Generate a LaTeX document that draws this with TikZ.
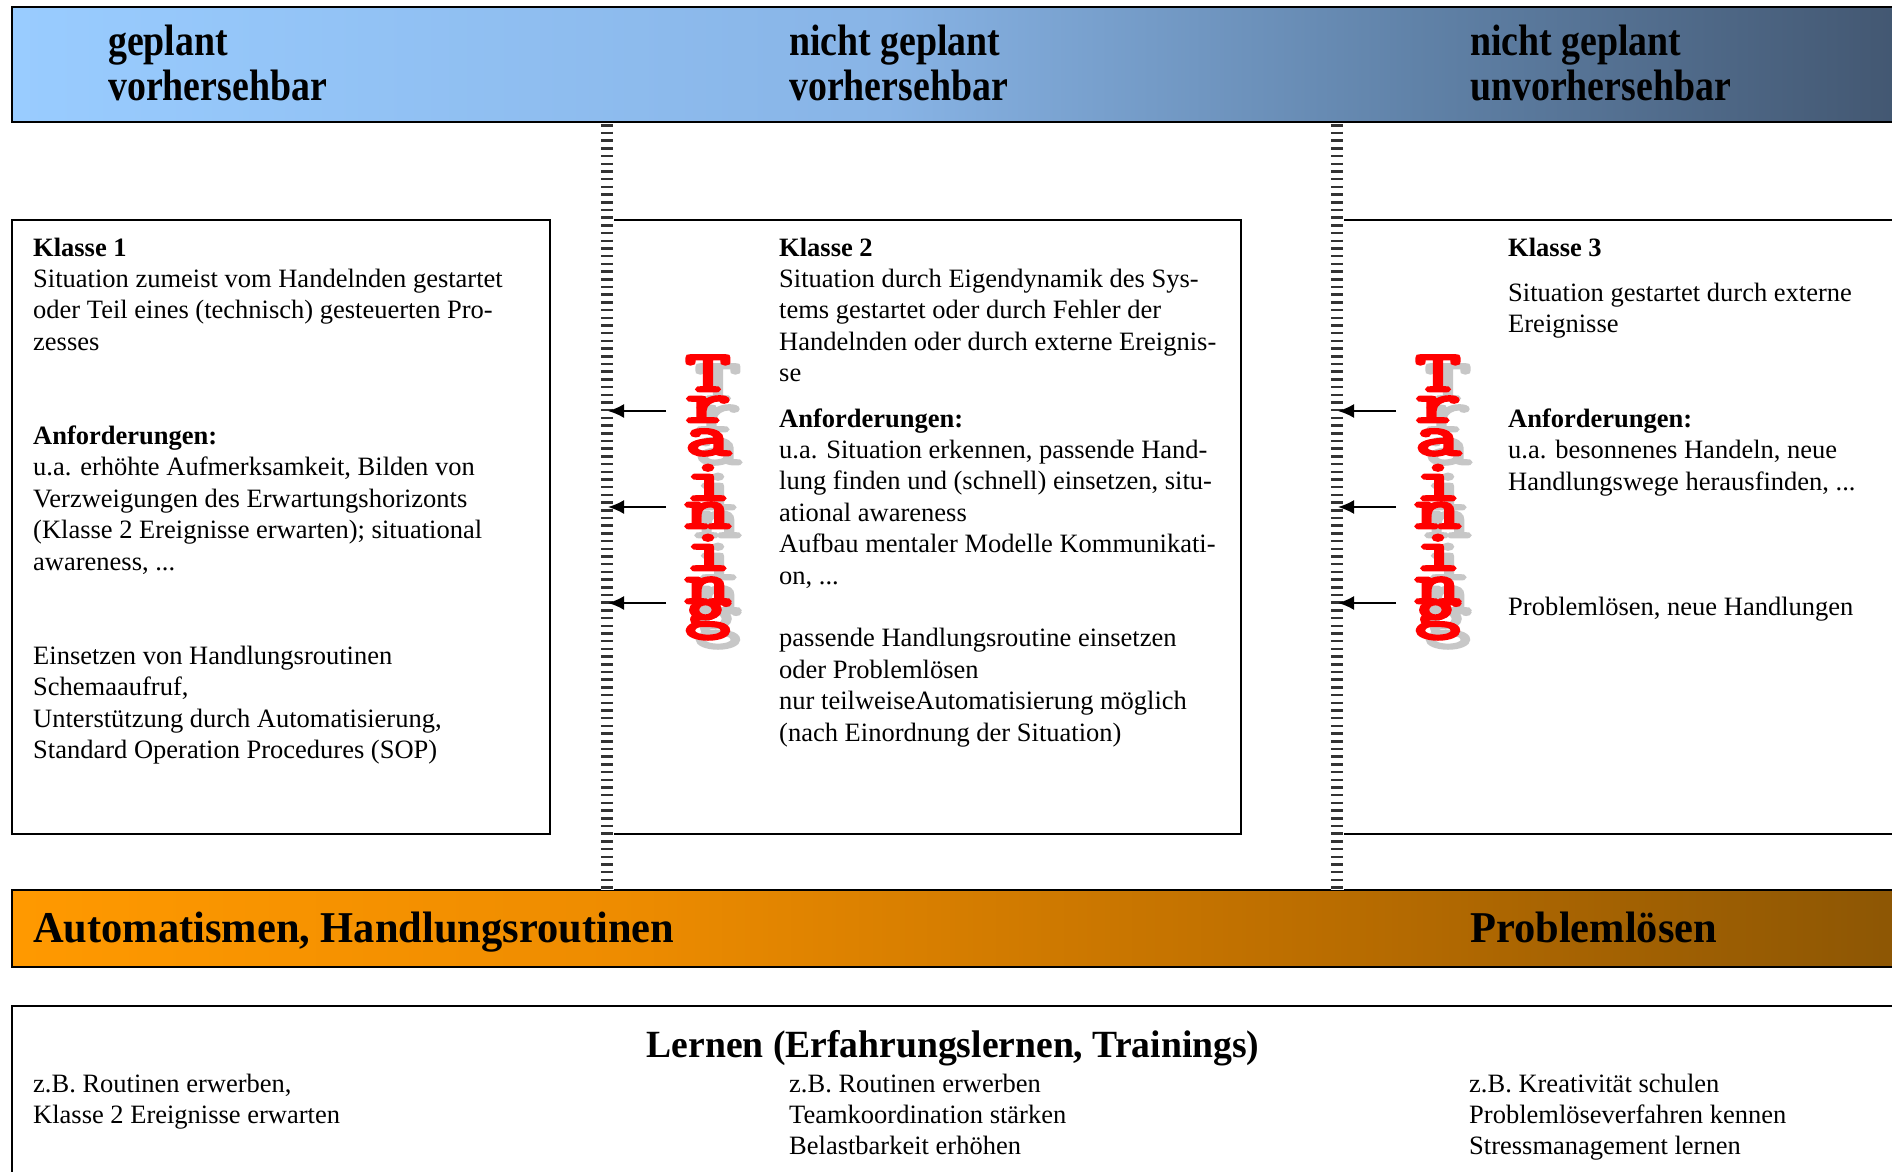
\documentclass[tikz,border=0pt]{standalone}
\usepackage{fontspec}
\setmainfont{Liberation Serif}
\newfontfamily\condserif{Liberation Serif}[FakeStretch=0.86]
\newfontfamily\barserif{Liberation Serif}[FakeStretch=0.965]
\newfontfamily\titleserif{Liberation Serif}[FakeStretch=0.977]
\newfontfamily\trainmono{Latin Modern Mono}[FakeBold=5]
\usetikzlibrary{arrows.meta}
\newcommand*{\bodyfont}{\fontsize{26.5}{31.4}\selectfont}
\newcommand*{\headfont}{\condserif\fontsize{44}{43}\selectfont\bfseries}
\newcommand*{\barfont}{\barserif\fontsize{44}{50}\selectfont\bfseries}
\newcommand*{\titlefont}{\titleserif\fontsize{38.5}{44}\selectfont\bfseries}
\newcommand*{\trainfont}{\trainmono\fontsize{88}{88}\selectfont}
\newcommand*{\squash}[1]{\scalebox{1}[0.66]{#1}}

\definecolor{headLeft}{RGB}{153,204,255}
\definecolor{headMid}{RGB}{136,180,230}
\definecolor{headDark}{RGB}{96,130,168}
\definecolor{headRight}{RGB}{66,86,112}
\definecolor{barLeft}{RGB}{255,153,0}
\definecolor{barMid}{RGB}{238,140,0}
\definecolor{barDark}{RGB}{188,110,0}
\definecolor{barRight}{RGB}{140,86,4}
\pgfdeclarehorizontalshading{headshade}{100bp}{color(0bp)=(headLeft); color(25bp)=(headLeft);
  color(48bp)=(headMid); color(62bp)=(headDark); color(75bp)=(headRight); color(100bp)=(headRight)}
\pgfdeclarehorizontalshading{barshade}{100bp}{color(0bp)=(barLeft); color(25bp)=(barLeft);
  color(41bp)=(barMid); color(59bp)=(barDark); color(75bp)=(barRight); color(100bp)=(barRight)}

\begin{document}
\begin{tikzpicture}[x=1pt,y=-1pt,
    class_box/.style ={rectangle, draw=black, line width=2pt, fill=white},
    bar_box/.style ={draw=black, line width=2.5pt},
    body_txt/.style ={anchor=north west, inner sep=0pt, align=left, font=\bodyfont},
    head_txt/.style ={anchor=north west, inner sep=0pt, align=left, font=\headfont},
    bar_txt/.style ={anchor=base west, inner sep=0pt, font=\barfont},
    train_red/.style ={anchor=base, inner sep=0pt, text=red, font=\trainfont},
    train_shadow/.style ={anchor=base, inner sep=0pt, text=black!22, font=\trainfont},
    line/.style ={draw, line width=2pt, -{Latex[length=16pt,width=14pt]}},
    sep_white/.style ={draw=white, line width=13pt},
    sep_dash/.style ={draw=black!80, line width=12pt, dash pattern=on 2.5pt off 5.2pt}]
    \useasboundingbox (0,0) rectangle (1892,1172);
    \clip (0,0) rectangle (1892,1172);
    % header bar
    \shadedraw[bar_box, shading=headshade] (12,7) rectangle (1910,122);
    \node[head_txt] (head_plan) at (108,24.9) {\strut geplant\\vorhersehbar};
    \node[head_txt] (head_pred) at (789,24.9) {\strut nicht geplant\\vorhersehbar};
    \node[head_txt] (head_unpred) at (1470,24.9) {\strut nicht geplant\\unvorhersehbar};
    % the three classes
    \draw[class_box] (12,220) rectangle (550,834);
    \draw[class_box] (607,220) rectangle (1241,834);
    \draw[class_box] (1337,220) rectangle (1910,834);
    \node[body_txt] (class_one) at (33,234) {\strut\textbf{Klasse 1}\\
      Situation zumeist vom Handelnden gestartet\\
      oder Teil eines (technisch) gesteuerten Pro-\\
      zesses\\[62.8pt]
      \textbf{Anforderungen:}\\
      u.a. erhöhte Aufmerksamkeit, Bilden von\\
      Verzweigungen des Erwartungshorizonts\\
      (Klasse 2 Ereignisse erwarten); situational\\
      awareness, ...\\[62.8pt]
      Einsetzen von Handlungsroutinen\\
      Schemaaufruf,\\
      Unterstützung durch Automatisierung,\\
      Standard Operation Procedures (SOP)};
    \node[body_txt] (class_two) at (779,234) {\strut\textbf{Klasse 2}\\
      Situation durch Eigendynamik des Sys-\\
      tems gestartet oder durch Fehler der\\
      Handelnden oder durch externe Ereignis-\\
      se\\[14pt]
      \textbf{Anforderungen:}\\
      u.a. Situation erkennen, passende Hand-\\
      lung finden und (schnell) einsetzen, situ-\\
      ational awareness\\
      Aufbau mentaler Modelle Kommunikati-\\
      on, ...\\[31.4pt]
      passende Handlungsroutine einsetzen\\
      oder Problemlösen\\
      nur teilweiseAutomatisierung möglich\\
      (nach Einordnung der Situation)};
    \node[body_txt] (class_three) at (1508,234) {\strut\textbf{Klasse 3}\\[14pt]
      Situation gestartet durch externe\\
      Ereignisse\\[63pt]
      \textbf{Anforderungen:}\\
      u.a. besonnenes Handeln, neue\\
      Handlungswege herausfinden, ...\\[94pt]
      Problemlösen, neue Handlungen};
    % orange bar
    \shadedraw[bar_box, shading=barshade] (12,890) rectangle (1910,967);
    \node[bar_txt] (bar_auto) at (33,942) {Automatismen, Handlungsroutinen};
    \node[bar_txt] (bar_prob) at (1470,942) {Problemlösen};
    % separators
    \foreach \sx [count=\s] in {607,1337} {
      \coordinate (sep\s_top) at (\sx,124);
      \coordinate (sep\s_bot) at (\sx,890);
      \path[sep_white] (sep\s_top) -- (sep\s_bot);
      \path[sep_dash] (sep\s_top) -- (sep\s_bot);
    }
    % Training, twice
    \foreach \dx/\side in {0/L,730/R} {
      \foreach \ch/\yb [count=\k] in {T/391,r/422,a/455,i/500,n/528,i/570,n/603,g/626} {
        \node[train_shadow] (shadow\side\k) at (718+\dx,\yb+9) {\squash{\ch}};
        \node[train_red] (train\side\k) at (708+\dx,\yb) {\squash{\ch}};
      }
      \foreach \ay [count=\k] in {411,507,603} {
        \coordinate (arw\side\k) at (666+\dx,\ay);
        \coordinate (tip\side\k) at (608+\dx,\ay);
        \path[line] (arw\side\k) -- (tip\side\k);
      }
    }
    % learning box
    \draw[class_box] (12,1190) -- (12,1006) -- (1910,1006);
    \node[anchor=base, inner sep=0pt, font=\titlefont] (learn_title) at (953,1057)
      {Lernen (Erfahrungslernen, Trainings)};
    \node[body_txt] (learn_a) at (33,1070) {\strut z.B. Routinen erwerben,\\
      Klasse 2 Ereignisse erwarten};
    \node[body_txt] (learn_b) at (789,1070) {\strut z.B. Routinen erwerben\\
      Teamkoordination stärken\\
      Belastbarkeit erhöhen};
    \node[body_txt] (learn_c) at (1469,1070) {\strut z.B. Kreativität schulen\\
      Problemlöseverfahren kennen\\
      Stressmanagement lernen};
\end{tikzpicture}
\end{document}
